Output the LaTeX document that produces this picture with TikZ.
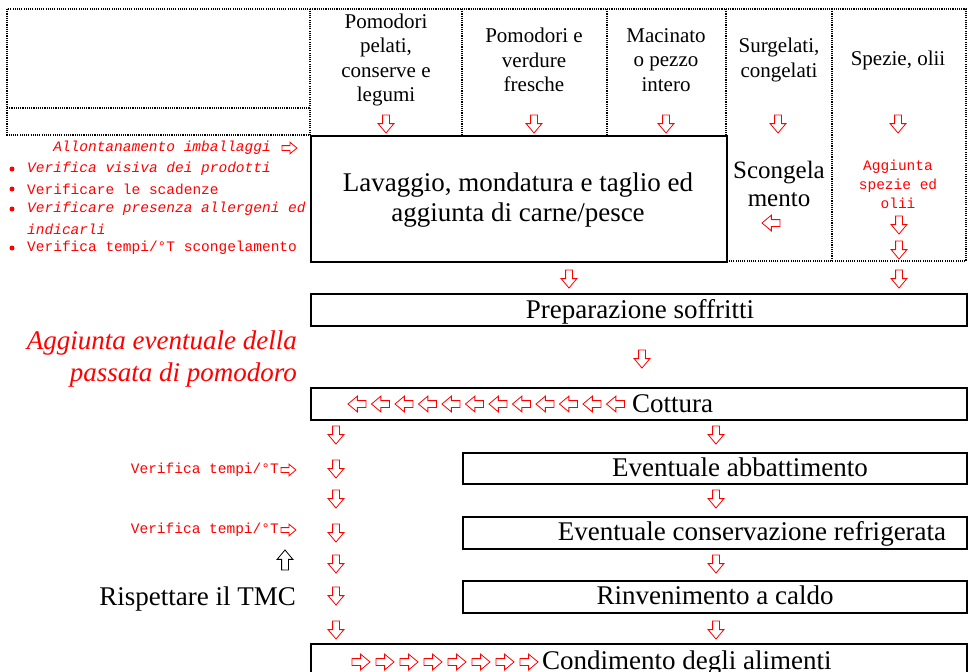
\documentclass[tikz,border=0pt]{standalone}
\usepackage{fontspec}
\setmainfont{Liberation Serif}
\newfontfamily\redmono{Liberation Mono}
\usepackage{tikz}
\usetikzlibrary{positioning}
\usetikzlibrary{shapes.arrows}
\newcommand{\hdrfont}{\fontsize{21}{24.5}\selectfont}
\newcommand{\stepfont}{\fontsize{27}{30}\selectfont}
\newcommand{\scongfont}{\fontsize{25}{28}\selectfont}
\newcommand{\notefont}{\redmono\fontsize{14.5}{19}\selectfont}

\begin{document}
\begin{tikzpicture}[x=1pt,y=-1pt,
    dotline/.style={line width=1.3pt, dash pattern=on 1.1pt off 1.1pt},
    box/.style={draw, line width=1.6pt, inner sep=0pt, anchor=north west},
    hdr/.style={align=center, font=\hdrfont},
    txt/.style={font=\stepfont, inner sep=0pt, text height=19pt, text depth=6pt},
    note/.style={text=red, font=\notefont, inner sep=0pt},
    dot/.style={circle, fill=red, inner sep=0pt, minimum size=5pt},
    warrow/.style={single arrow, draw=red, fill=white, line width=0.8pt, inner sep=3pt,
      minimum height=18pt, single arrow head extend=4.5pt,
      single arrow tip angle=80},
    small/.style={minimum height=15pt, inner sep=2pt, single arrow head extend=3.5pt},
    dn/.style={warrow, shape border rotate=270},
    sdn/.style={warrow, shape border rotate=258},
    lf/.style={warrow, shape border rotate=180},
    rt/.style={warrow, shape border rotate=0}]
  \useasboundingbox (0,0) rectangle (972,672);
  \clip (0,0) rectangle (972,672);

  % header table
  \draw[dotline] (7,9) rectangle (310,135) (7,108) -- (310,108);
  \draw[dotline] (310,9) -- (966,9) -- (966,261) -- (726,261)
    (462,9) -- (462,135) (607,9) -- (607,135) (726,9) -- (726,135) (832,9) -- (832,261);
  \node[hdr] (pel) at (386,60) {Pomodori\\pelati,\\conserve e\\legumi};
  \node[hdr] (ver) at (534,60) {Pomodori e\\verdure\\fresche};
  \node[hdr] (mac) at (666,60) {Macinato\\o pezzo\\intero};
  \node[hdr] (sur) at (779,60) {Surgelati,\\congelati};
  \node[hdr] (spe) at (898,60) {Spezie, olii};
  \foreach \x [count=\i] in {386,534,666,778,898}
    \node[dn] (h\i) at (\x,122) {};

  \node[box, minimum width=416, minimum height=126] (lav) at (310,135) {};
  \node[align=center, font=\stepfont] (lavt) at (518,200) {Lavaggio, mondatura e taglio ed\\aggiunta di carne/pesce};
  \node[align=center, font=\scongfont] (scong) at (779,184) {Scongela\\mento};
  \node[lf] (scarr) at (773,223) {};
  \node[note, align=center] (agg) at (898,184) {Aggiunta\\spezie ed\\olii};
  \node[dn] (sp1) at (899,223) {};
  \node[dn] (sp2) at (899,248) {};

  % controlli a sinistra
  \node[note, font=\notefont\itshape, anchor=east] (imb) at (271,148) {Allontanamento imballaggi};
  \node[rt, small] (imbarr) at (288,148) {};
  \foreach \y/\t [count=\i] in {169/{\itshape Verifica visiva dei prodotti},
      189/{Verificare le scadenze}, 209/{\itshape Verificare presenza allergeni ed},
      248/{Verifica tempi/°T scongelamento}} {
    \node[dot] (b\i) at (12,\y) {};
    \node[note, anchor=west] (v\i) at (27,\y) {\t};
  }
  \node[note, font=\notefont\itshape, anchor=west] (ind) at (27,229) {indicarli};

  \node[dn] (l1) at (569,277) {};
  \node[dn] (r1) at (899,277) {};
  \node[box, minimum width=656, minimum height=32] (prep) at (310,293) {};
  \node[txt] (prept) at (640,311.5) {Preparazione soffritti};
  \node[align=right, anchor=east, text=red, font=\fontsize{27}{32}\selectfont\itshape, inner sep=0pt] (pass) at (297,359) {Aggiunta eventuale della\\passata di pomodoro};
  \node[sdn] (l2) at (642,357) {};

  \node[box, minimum width=656, minimum height=32] (cot) at (310,387) {};
  \foreach \k in {0,...,11}
    \node[lf] (c\k) at ({359+23.5*\k},404) {};
  \node[txt, anchor=west] (cott) at (632,405.5) {Cottura};

  % colonna sinistra
  \foreach \y/\s [count=\i] in {433/dn,467/sdn,497/sdn,531/dn,562/dn,594/dn,628/dn}
    \node[\s] (a\i) at (336,\y) {};
  \node[note, anchor=east] (vt1) at (279,470) {Verifica tempi/°T};
  \node[rt, small] (vt1arr) at (287,470) {};
  \node[note, anchor=east] (vt2) at (279,530) {Verifica tempi/°T};
  \node[rt, small] (vt2arr) at (287,530) {};
  \node[warrow, draw=black, shape border rotate=90, minimum height=20pt] (up) at (285,562) {};
  \node[txt, anchor=east] (tmc) at (296,598.5) {Rispettare il TMC};

  % colonna destra
  \node[dn] (d1) at (716,433) {};
  \node[box, minimum width=504, minimum height=31] (abb) at (462,452) {};
  \node[txt] (abbt) at (740,469.5) {Eventuale abbattimento};
  \node[sdn] (d2) at (716,497) {};
  \node[box, minimum width=504, minimum height=32] (cons) at (462,516) {};
  \node[txt] (const) at (752,533.5) {Eventuale conservazione refrigerata};
  \node[dn] (d3) at (716,562) {};
  \node[box, minimum width=504, minimum height=32] (rinv) at (462,580) {};
  \node[txt] (rinvt) at (715,597.5) {Rinvenimento a caldo};
  \node[dn] (d4) at (716,628) {};

  \node[box, minimum width=656, minimum height=60] (cond) at (310,643) {};
  \foreach \k in {0,...,7}
    \node[rt] (e\k) at ({359+24*\k},662) {};
  \node[txt, anchor=west] (condt) at (542,662.5) {Condimento degli alimenti};
\end{tikzpicture}
\end{document}
